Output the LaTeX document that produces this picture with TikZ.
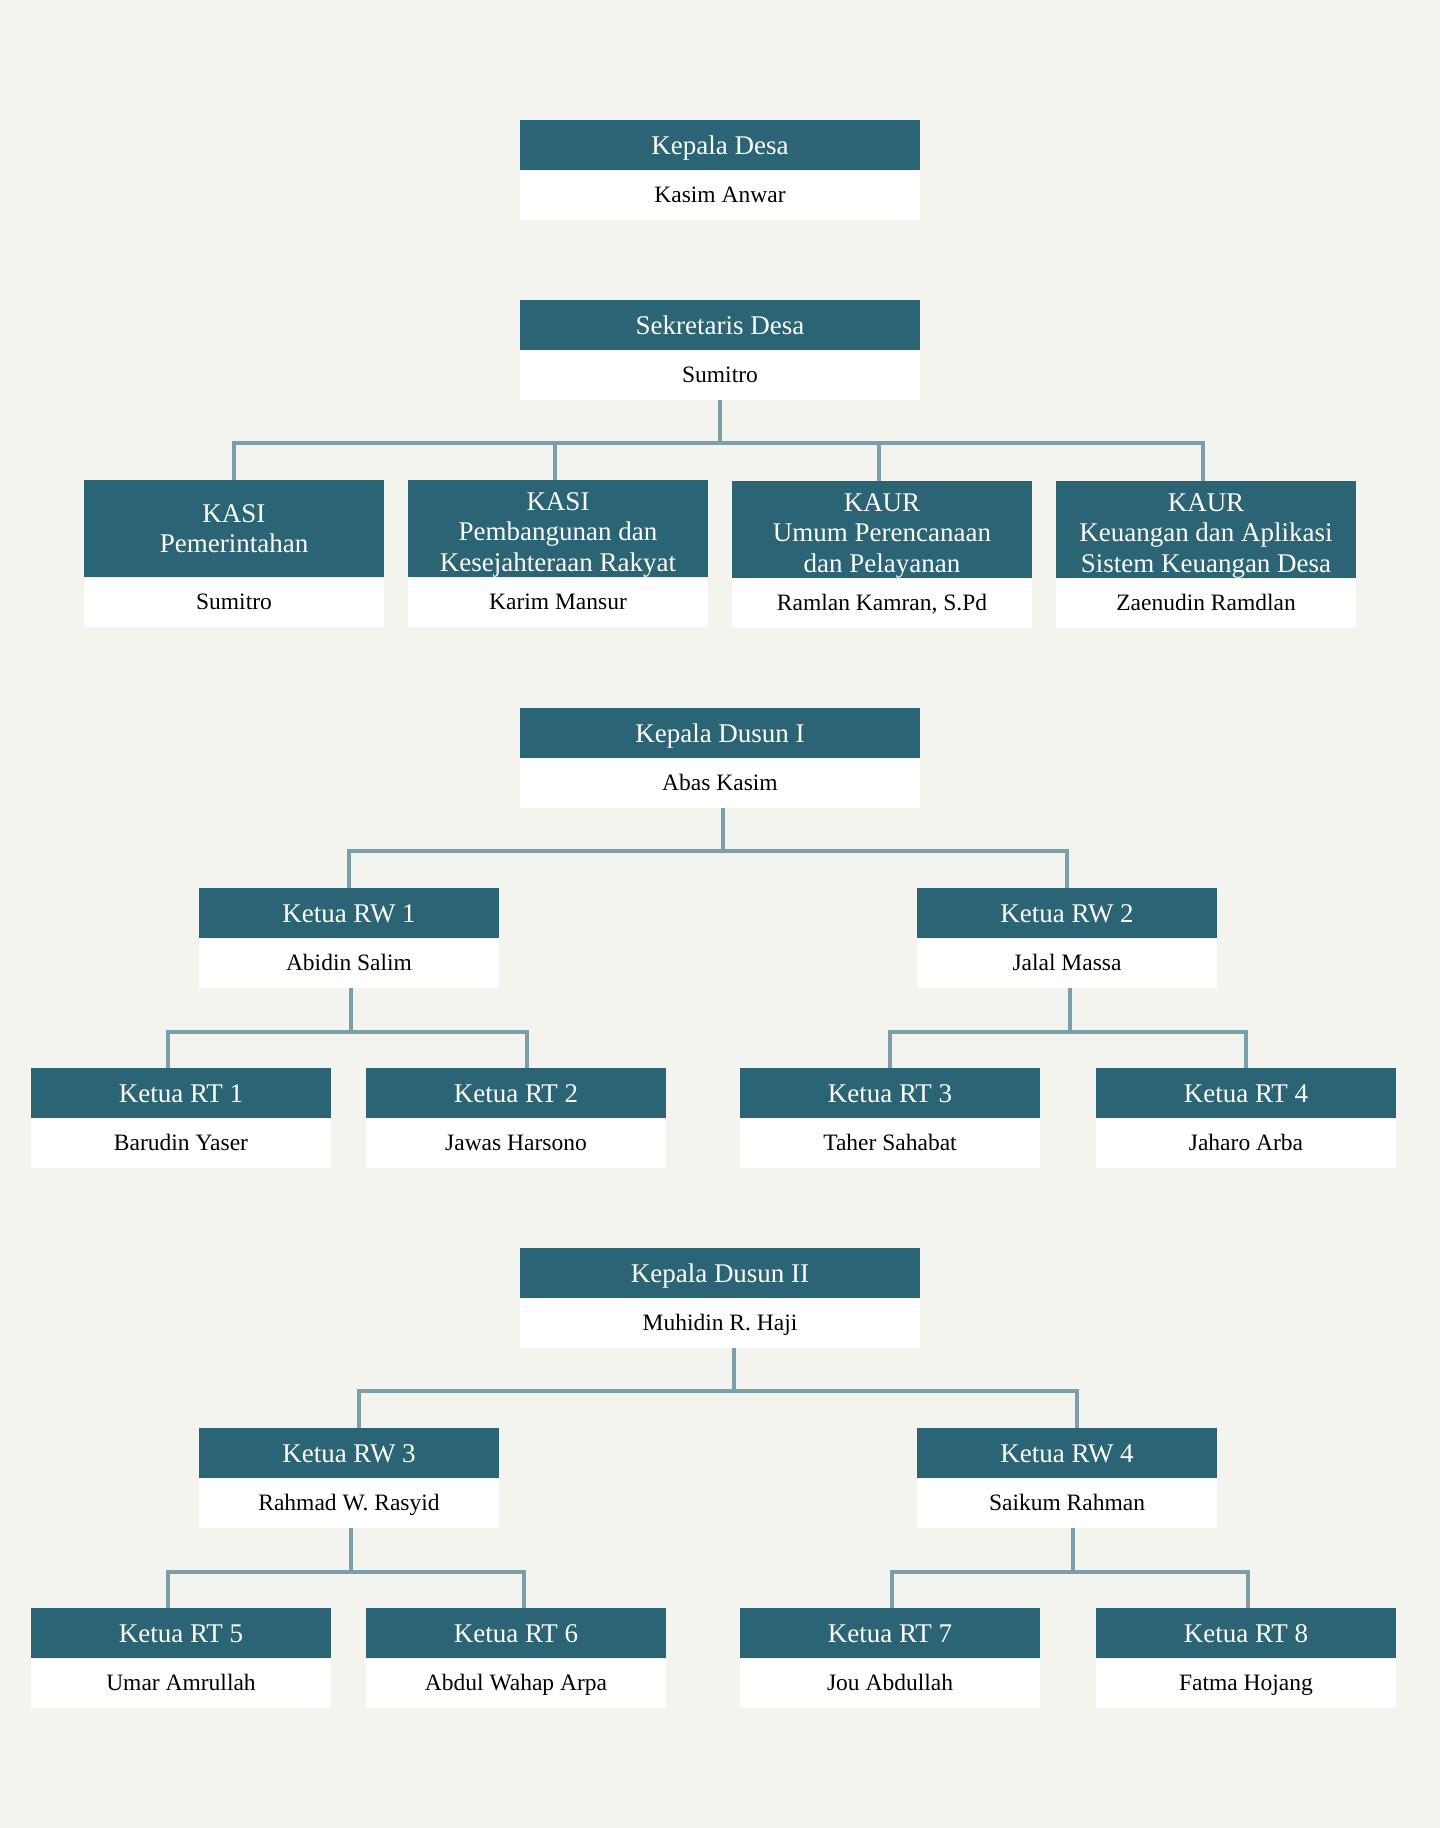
\documentclass[tikz,border=0pt]{standalone}
\usepackage{fontspec}
\setmainfont{Liberation Serif}
\usetikzlibrary{positioning,calc}
\definecolor{paper}{HTML}{F4F4EF}
\definecolor{deepteal}{HTML}{2B6474}
\definecolor{linkgrey}{HTML}{7A9EAA}

\newcommand{\topgap}{\rule{0pt}{24pt}}

\tikzset{
  head/.style={fill=deepteal, text=white, minimum width=300pt, minimum height=50pt,
    inner sep=2pt, align=center, anchor=north, text height=24.5pt, text depth=6.7pt,
    font=\fontsize{27}{31.5}\selectfont},
  tall/.style={minimum height=97pt, inner sep=0pt, text height=, text depth=0pt,
    font=\fontsize{27}{30.5}\selectfont},
  wide/.style={minimum width=400pt},
  namebox/.style={fill=white, minimum width=300pt, minimum height=49pt,
    inner sep=2pt, text height=21.5pt, text depth=6pt,
    font=\fontsize{23.5}{28}\selectfont},
  link/.style={draw=linkgrey, line width=3.5pt}
}

\begin{document}
\begin{tikzpicture}[x=1pt, y=-1pt]
  \fill[paper] (0,0) rectangle (1440,1828);

  % kepala desa
  \node[head, wide] (kades) at (720,120) {Kepala Desa};
  \node[namebox, wide, below=0pt of kades] (kadesN) {Kasim Anwar};

  % sekretaris dan staf
  \node[head, wide] (sekdes) at (720,300) {Sekretaris Desa};
  \node[namebox, wide, below=0pt of sekdes] (sekdesN) {Sumitro};

  \node[head, tall] (kasi1) at (234,480) {KASI\\Pemerintahan};
  \node[namebox, below=0pt of kasi1] (kasi1N) {Sumitro};
  \node[head, tall] (kasi2) at (558,480) {\topgap KASI\\Pembangunan dan\\Kesejahteraan Rakyat};
  \node[namebox, below=0pt of kasi2] (kasi2N) {Karim Mansur};
  \node[head, tall] (kaur1) at (882,481) {\topgap KAUR\\Umum Perencanaan\\dan Pelayanan};
  \node[namebox, below=0pt of kaur1] (kaur1N) {Ramlan Kamran, S.Pd};
  \node[head, tall] (kaur2) at (1206,481) {\topgap KAUR\\Keuangan dan Aplikasi\\Sistem Keuangan Desa};
  \node[namebox, below=0pt of kaur2] (kaur2N) {Zaenudin Ramdlan};

  \coordinate (busSek) at ($(sekdesN.south)+(0,43)$);
  \foreach \k/\dx in {kasi1/0,kasi2/-3,kaur1/-3,kaur2/-3}
    \draw[link] (sekdesN.south) -- (busSek) -| ([xshift=\dx pt]\k.north);

  % dusun I
  \node[head, wide] (dusun1) at (720,708) {Kepala Dusun I};
  \node[namebox, wide, below=0pt of dusun1] (dusun1N) {Abas Kasim};

  \node[head] (rw1) at (349,888) {Ketua RW 1};
  \node[namebox, below=0pt of rw1] (rw1N) {Abidin Salim};
  \node[head] (rw2) at (1067,888) {Ketua RW 2};
  \node[namebox, below=0pt of rw2] (rw2N) {Jalal Massa};

  \node[head] (rt1) at (181,1068) {Ketua RT 1};
  \node[namebox, below=0pt of rt1] (rt1N) {Barudin Yaser};
  \node[head] (rt2) at (516,1068) {Ketua RT 2};
  \node[namebox, below=0pt of rt2] (rt2N) {Jawas Harsono};
  \node[head] (rt3) at (890,1068) {Ketua RT 3};
  \node[namebox, below=0pt of rt3] (rt3N) {Taher Sahabat};
  \node[head] (rt4) at (1246,1068) {Ketua RT 4};
  \node[namebox, below=0pt of rt4] (rt4N) {Jaharo Arba};

  \coordinate (busD1) at ($([xshift=3pt]dusun1N.south)+(0,43)$);
  \foreach \k in {rw1,rw2}
    \draw[link] ([xshift=3pt]dusun1N.south) -- (busD1) -| (\k.north);
  \coordinate (busRw1) at ($([xshift=2pt]rw1N.south)+(0,44)$);
  \foreach \k/\dx in {rt1/-13,rt2/11}
    \draw[link] ([xshift=2pt]rw1N.south) -- (busRw1) -| ([xshift=\dx pt]\k.north);
  \coordinate (busRw2) at ($([xshift=3pt]rw2N.south)+(0,44)$);
  \foreach \k in {rt3,rt4}
    \draw[link] ([xshift=3pt]rw2N.south) -- (busRw2) -| (\k.north);

  % dusun II
  \node[head, wide] (dusun2) at (720,1248) {Kepala Dusun II};
  \node[namebox, wide, below=0pt of dusun2] (dusun2N) {Muhidin R. Haji};

  \node[head] (rw3) at (349,1428) {Ketua RW 3};
  \node[namebox, below=0pt of rw3] (rw3N) {Rahmad W. Rasyid};
  \node[head] (rw4) at (1067,1428) {Ketua RW 4};
  \node[namebox, below=0pt of rw4] (rw4N) {Saikum Rahman};

  \node[head] (rt5) at (181,1608) {Ketua RT 5};
  \node[namebox, below=0pt of rt5] (rt5N) {Umar Amrullah};
  \node[head] (rt6) at (516,1608) {Ketua RT 6};
  \node[namebox, below=0pt of rt6] (rt6N) {Abdul Wahap Arpa};
  \node[head] (rt7) at (890,1608) {Ketua RT 7};
  \node[namebox, below=0pt of rt7] (rt7N) {Jou Abdullah};
  \node[head] (rt8) at (1246,1608) {Ketua RT 8};
  \node[namebox, below=0pt of rt8] (rt8N) {Fatma Hojang};

  \coordinate (busD2) at ($([xshift=14pt]dusun2N.south)+(0,43)$);
  \foreach \k in {rw3,rw4}
    \draw[link] ([xshift=14pt]dusun2N.south) -- (busD2) -| ([xshift=10pt]\k.north);
  \coordinate (busRw3) at ($([xshift=2pt]rw3N.south)+(0,44)$);
  \foreach \k/\dx in {rt5/-13,rt6/8}
    \draw[link] ([xshift=2pt]rw3N.south) -- (busRw3) -| ([xshift=\dx pt]\k.north);
  \coordinate (busRw4) at ($([xshift=6pt]rw4N.south)+(0,44)$);
  \foreach \k in {rt7,rt8}
    \draw[link] ([xshift=6pt]rw4N.south) -- (busRw4) -| ([xshift=2pt]\k.north);
\end{tikzpicture}
\end{document}
